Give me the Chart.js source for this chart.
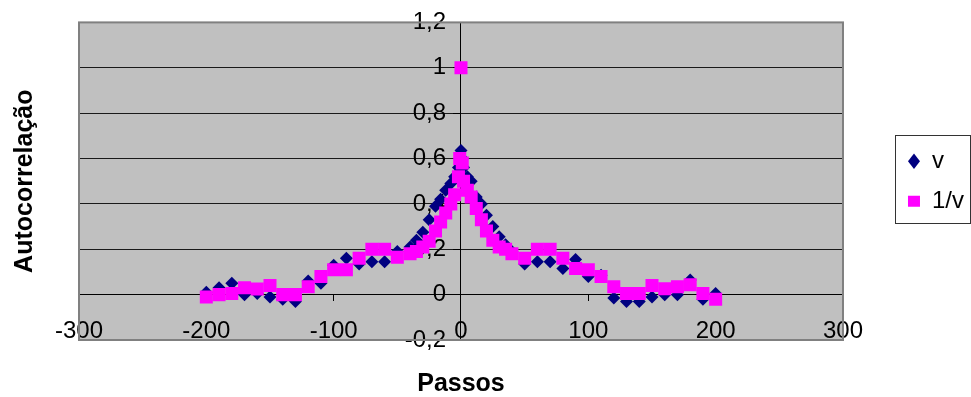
<!DOCTYPE html>
<html>
<head>
<meta charset="utf-8">
<script src="https://cdn.jsdelivr.net/npm/chart.js@4/dist/chart.umd.min.js"></script>
<style>
  html, body { margin: 0; padding: 0; background: #ffffff; }
  canvas { display: block; }
</style>
</head>
<body>
<canvas id="chart" width="971" height="397"></canvas>
<script>
// Lags (passos) shared by both series
const lags = [-200, -190, -180, -170, -160, -150, -140, -130, -120, -110, -100, -90, -80, -70, -60, -50, -40,
  -35, -30, -25, -20, -16, -12, -8, -5, -2, -1, 0, 1, 2, 5, 8, 12, 16, 20, 25, 30, 35,
  40, 50, 60, 70, 80, 90, 100, 110, 120, 130, 140, 150, 160, 170, 180, 190, 200];

// Autocorrelation of v
const vValues = [0.01, 0.03, 0.05, 0.0, 0.005, -0.01, -0.02, -0.03, 0.06, 0.05, 0.13, 0.16, 0.135, 0.145, 0.145, 0.19, 0.21,
  0.24, 0.275, 0.33, 0.39, 0.42, 0.46, 0.49, 0.52, 0.56, 0.6, 0.635, 0.6, 0.56, 0.52, 0.5, 0.43, 0.4, 0.35, 0.3, 0.255, 0.22,
  0.19, 0.135, 0.145, 0.145, 0.115, 0.155, 0.08, 0.085, -0.015, -0.03, -0.03, -0.01, 0.0, 0.0, 0.065, -0.02, 0.005];

// Autocorrelation of 1/v
const invValues = [-0.01, 0.0, 0.005, 0.03, 0.025, 0.04, 0.0, 0.0, 0.035, 0.08, 0.11, 0.11, 0.16, 0.2, 0.2, 0.165, 0.18,
  0.19, 0.21, 0.235, 0.28, 0.32, 0.36, 0.4, 0.44, 0.52, 0.6, 1.0, 0.58, 0.5, 0.46, 0.43, 0.38, 0.33, 0.28, 0.24, 0.21, 0.2,
  0.18, 0.16, 0.2, 0.2, 0.16, 0.115, 0.11, 0.08, 0.035, 0.005, 0.005, 0.04, 0.026, 0.035, 0.044, 0.005, -0.02];

const xTickValues = [-300, -200, -100, 0, 100, 200, 300];
const yTickValues = [-0.2, 0, 0.2, 0.4, 0.6, 0.8, 1, 1.2];

const fmtDecimal = v => String(Number(v.toFixed(1))).replace('.', ',');

Chart.defaults.font.family = "'Liberation Sans', Arial, sans-serif";
Chart.defaults.color = '#000000';

// Grey plot background and frame
const plotFrame = {
  id: 'plotFrame',
  beforeDraw(chart) {
    const { ctx, chartArea: a } = chart;
    ctx.save();
    ctx.fillStyle = '#c0c0c0';
    ctx.fillRect(a.left, a.top, a.right - a.left, a.bottom - a.top);
    ctx.restore();
  },
  beforeDatasetsDraw(chart) {
    const { ctx, chartArea: a } = chart;
    ctx.save();
    ctx.strokeStyle = '#808080';
    ctx.lineWidth = 2;
    ctx.strokeRect(a.left, a.top, a.right - a.left, a.bottom - a.top);
    ctx.restore();
  }
};

// Thin box around the legend entries
const legendFrame = {
  id: 'legendFrame',
  afterDraw(chart) {
    const boxes = chart.legend && chart.legend.legendHitBoxes;
    if (!boxes || !boxes.length) return;
    const first = boxes[0];
    const last = boxes[boxes.length - 1];
    const left = first.left - 13;
    const top = first.top - 14;
    const bottom = last.top + last.height + 10;
    const { ctx } = chart;
    ctx.save();
    ctx.strokeStyle = '#333333';
    ctx.lineWidth = 1;
    ctx.strokeRect(Math.round(left) + 0.5, Math.round(top) + 0.5, 75, Math.round(bottom - top));
    ctx.restore();
  }
};

// The y axis sits at x = 0; keep its labels clear of the axis line and tick marks
const Y_LABEL_GAP = 15;
function shiftAxisLabels(scale) {
  if (scale.$labelShift) return;
  const compute = scale._computeLabelItems;
  scale._computeLabelItems = function (area) {
    const items = compute.call(this, area);
    items.forEach(it => { it.options.translation[0] -= Y_LABEL_GAP; });
    return items;
  };
  scale.$labelShift = true;
}

new Chart(document.getElementById('chart'), {
  type: 'scatter',
  data: {
    datasets: [
      {
        label: 'v',
        data: lags.map((x, i) => ({ x, y: vValues[i] })),
        pointStyle: 'rectRot',
        pointRadius: 6.5,
        pointHoverRadius: 6.5,
        backgroundColor: '#000080',
        borderColor: '#000080',
        borderWidth: 0,
        yAxisID: 'y',
        order: 2
      },
      {
        label: '1/v',
        data: lags.map((x, i) => ({ x, y: invValues[i] })),
        pointStyle: 'rect',
        pointRadius: 9.2,
        pointHoverRadius: 9.2,
        backgroundColor: '#ff00ff',
        borderColor: '#ff00ff',
        borderWidth: 0,
        yAxisID: 'y',
        order: 1
      }
    ]
  },
  options: {
    responsive: false,
    animation: false,
    events: [],
    layout: { padding: { left: 0, top: 20, right: -3, bottom: 0 } },
    scales: {
      x: {
        type: 'linear',
        position: { y: 0 },
        min: -300,
        max: 300,
        afterBuildTicks: s => { s.ticks = xTickValues.map(value => ({ value })); },
        ticks: { font: { size: 24 }, color: '#000', padding: 16, maxRotation: 0, autoSkip: false, callback: v => String(v) },
        grid: { drawOnChartArea: false, drawTicks: true, tickLength: 6, tickColor: '#000' },
        border: { display: true, color: '#000', width: 1 }
      },
      y: {
        type: 'linear',
        position: { x: 0 },
        min: -0.2,
        max: 1.2,
        afterBuildTicks: s => { s.ticks = yTickValues.map(value => ({ value })); },
        afterUpdate: shiftAxisLabels,
        ticks: { font: { size: 24 }, color: '#000', padding: 8, autoSkip: false, callback: v => fmtDecimal(v) },
        grid: {
          color: c => (c.tick && (c.tick.value < -0.19 || c.tick.value > 1.19)) ? 'rgba(0,0,0,0)' : '#1a1a1a',
          tickColor: '#000',
          tickLength: 7,
          drawTicks: true
        },
        border: { display: true, color: '#000', width: 1 }
      },
      gap: {
        type: 'linear',
        axis: 'y',
        position: 'right',
        display: true,
        ticks: { display: false },
        grid: { display: false },
        border: { display: false },
        afterFit: s => { s.width = 49; }
      }
    },
    plugins: {
      legend: {
        display: true,
        position: 'right',
        fullSize: false,
        labels: {
          usePointStyle: true,
          pointStyleWidth: 12,
          boxHeight: 11,
          padding: 16,
          color: '#000',
          font: { size: 24 },
          sort: (a, b) => a.datasetIndex - b.datasetIndex
        }
      },
      title: {
        display: true,
        text: 'Passos',
        position: 'bottom',
        fullSize: false,
        color: '#000',
        font: { size: 25, weight: 'bold', lineHeight: 1 },
        padding: { top: 32, bottom: 0 }
      },
      subtitle: {
        display: true,
        text: 'Autocorrelação',
        position: 'left',
        fullSize: false,
        color: '#000',
        font: { size: 25, weight: 'bold', lineHeight: 1 },
        padding: { top: 13, bottom: 41 }
      },
      tooltip: { enabled: false }
    }
  },
  plugins: [plotFrame, legendFrame]
});
</script>
</body>
</html>
